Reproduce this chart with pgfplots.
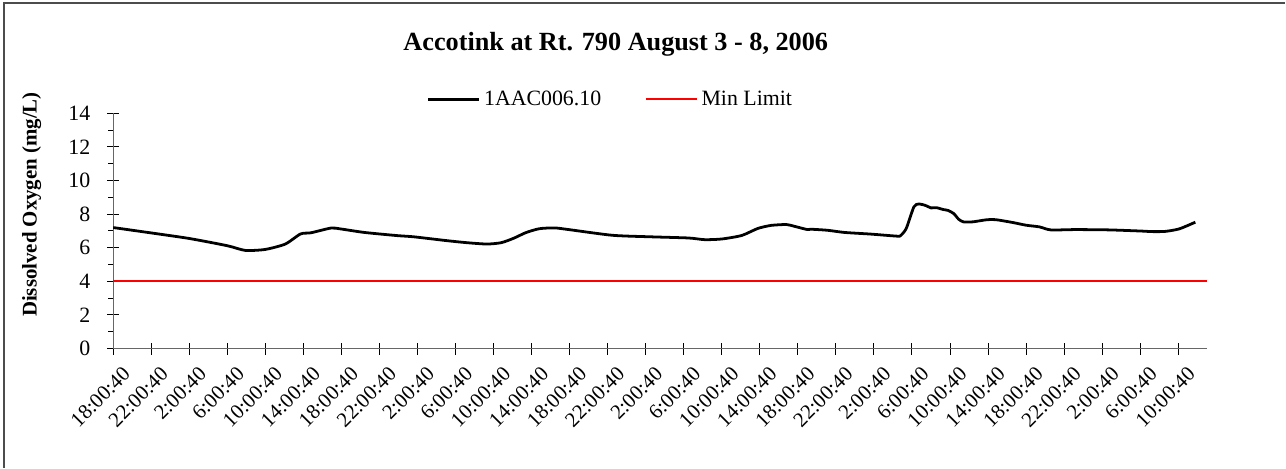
\documentclass[border=0pt]{standalone}
\usepackage{fontspec}
\setmainfont{Liberation Serif}
\usepackage{pgfplots}
\pgfplotsset{compat=1.18}

\begin{document}
\begin{tikzpicture}
\begin{axis}[
    at={(0,0)}, anchor=south west,
    scale only axis,
    width=550.5pt, height=118.5pt,
    xmin=0, xmax=115,
    ymin=0, ymax=14,
    axis x line*=bottom,
    axis y line*=left,
    axis line style={gray!80!black, line width=0.6pt},
    every tick/.style={black, line width=0.5pt},
    tick align=center,
    major tick length=6pt,
    ytick={0,2,...,14},
    yticklabels={0,2,4,6,8,10,12,14},
    extra y ticks={1,3,...,13},
    extra y tick labels={},
    extra y tick style={tick align=outside, major tick length=2.5pt},
    xtick={0,4,...,112},
    xticklabels={18:00:40,22:00:40,2:00:40,6:00:40,10:00:40,14:00:40,
                 18:00:40,22:00:40,2:00:40,6:00:40,10:00:40,14:00:40,
                 18:00:40,22:00:40,2:00:40,6:00:40,10:00:40,14:00:40,
                 18:00:40,22:00:40,2:00:40,6:00:40,10:00:40,14:00:40,
                 18:00:40,22:00:40,2:00:40,6:00:40,10:00:40},
    xticklabel style={rotate=45, anchor=east, font=\fontsize{10.5}{12}\selectfont, xshift=2.5pt, yshift=-10.5pt},
    every y tick label/.append style={font=\fontsize{11}{13}\selectfont, anchor=east, xshift=-5pt},
    ylabel={\textbf{Dissolved Oxygen (mg/L)}},
    ylabel style={at={(axis description cs:-0.0745,0.612)}, anchor=center, font=\fontsize{10.5}{12}\selectfont},
    legend columns=2,
    legend style={draw=none, fill=none, at={(axis description cs:0.4555,1.059)}, anchor=center,
        font=\fontsize{11}{13}\selectfont, inner sep=0pt,
        /tikz/every even column/.append style={column sep=20pt}},
    legend image code/.code={\draw[#1] (0pt,0pt) -- (25.5pt,0pt);},
]
\addplot[black, line width=1.4pt, smooth, tension=0.4] coordinates {
    (0,7.20) (4.0,6.88) (8.0,6.55) (12.0,6.12) (13.9,5.84) (16.0,5.90)
    (18.1,6.22) (19.7,6.82) (20.8,6.89) (22.9,7.17) (23.9,7.12) (26.4,6.91)
    (29.9,6.72) (31.6,6.65) (35.1,6.42) (37.2,6.30) (39.3,6.22) (40.8,6.30)
    (42.1,6.56) (43.4,6.90) (44.8,7.13) (46.4,7.18) (47.9,7.08) (52.5,6.74)
    (56.5,6.65) (60.5,6.58) (62.2,6.48) (64.0,6.52) (66.1,6.73) (67.8,7.15)
    (69.2,7.33) (70.8,7.38) (71.6,7.28) (73.0,7.08) (73.4,7.10) (75.1,7.04)
    (76.9,6.91) (79.7,6.81) (82.4,6.69) (82.8,6.72) (83.4,7.15) (84.2,8.43)
    (84.7,8.60) (85.4,8.52) (86.0,8.37) (86.6,8.38) (87.3,8.27) (87.8,8.22)
    (88.4,8.03) (88.9,7.70) (89.4,7.54) (90.4,7.54) (91.8,7.66) (92.8,7.67)
    (94.6,7.50) (96.0,7.34) (97.4,7.24) (98.6,7.06) (101.2,7.08) (104.8,7.06)
    (108.2,6.99) (109.2,6.96) (110.6,6.97) (112.1,7.12) (113.8,7.52)
};
\addlegendentry{1AAC006.10}
\addplot[red, line width=1pt] coordinates {(0,4) (115,4)};
\addlegendentry{Min Limit}
\end{axis}
% title and chart area border
\node[anchor=base, font=\fontsize{13.2}{15}\selectfont\bfseries] at (253pt,150pt) {Accotink at Rt. 790 August 3 - 8, 2006};
\draw[gray!60!black, line width=0.8pt] (-55pt,-60pt) -- (-55pt,174pt) -- (590pt,174pt);
\useasboundingbox (-57pt,-59pt) rectangle (586pt,175.5pt);
\end{tikzpicture}
\end{document}
